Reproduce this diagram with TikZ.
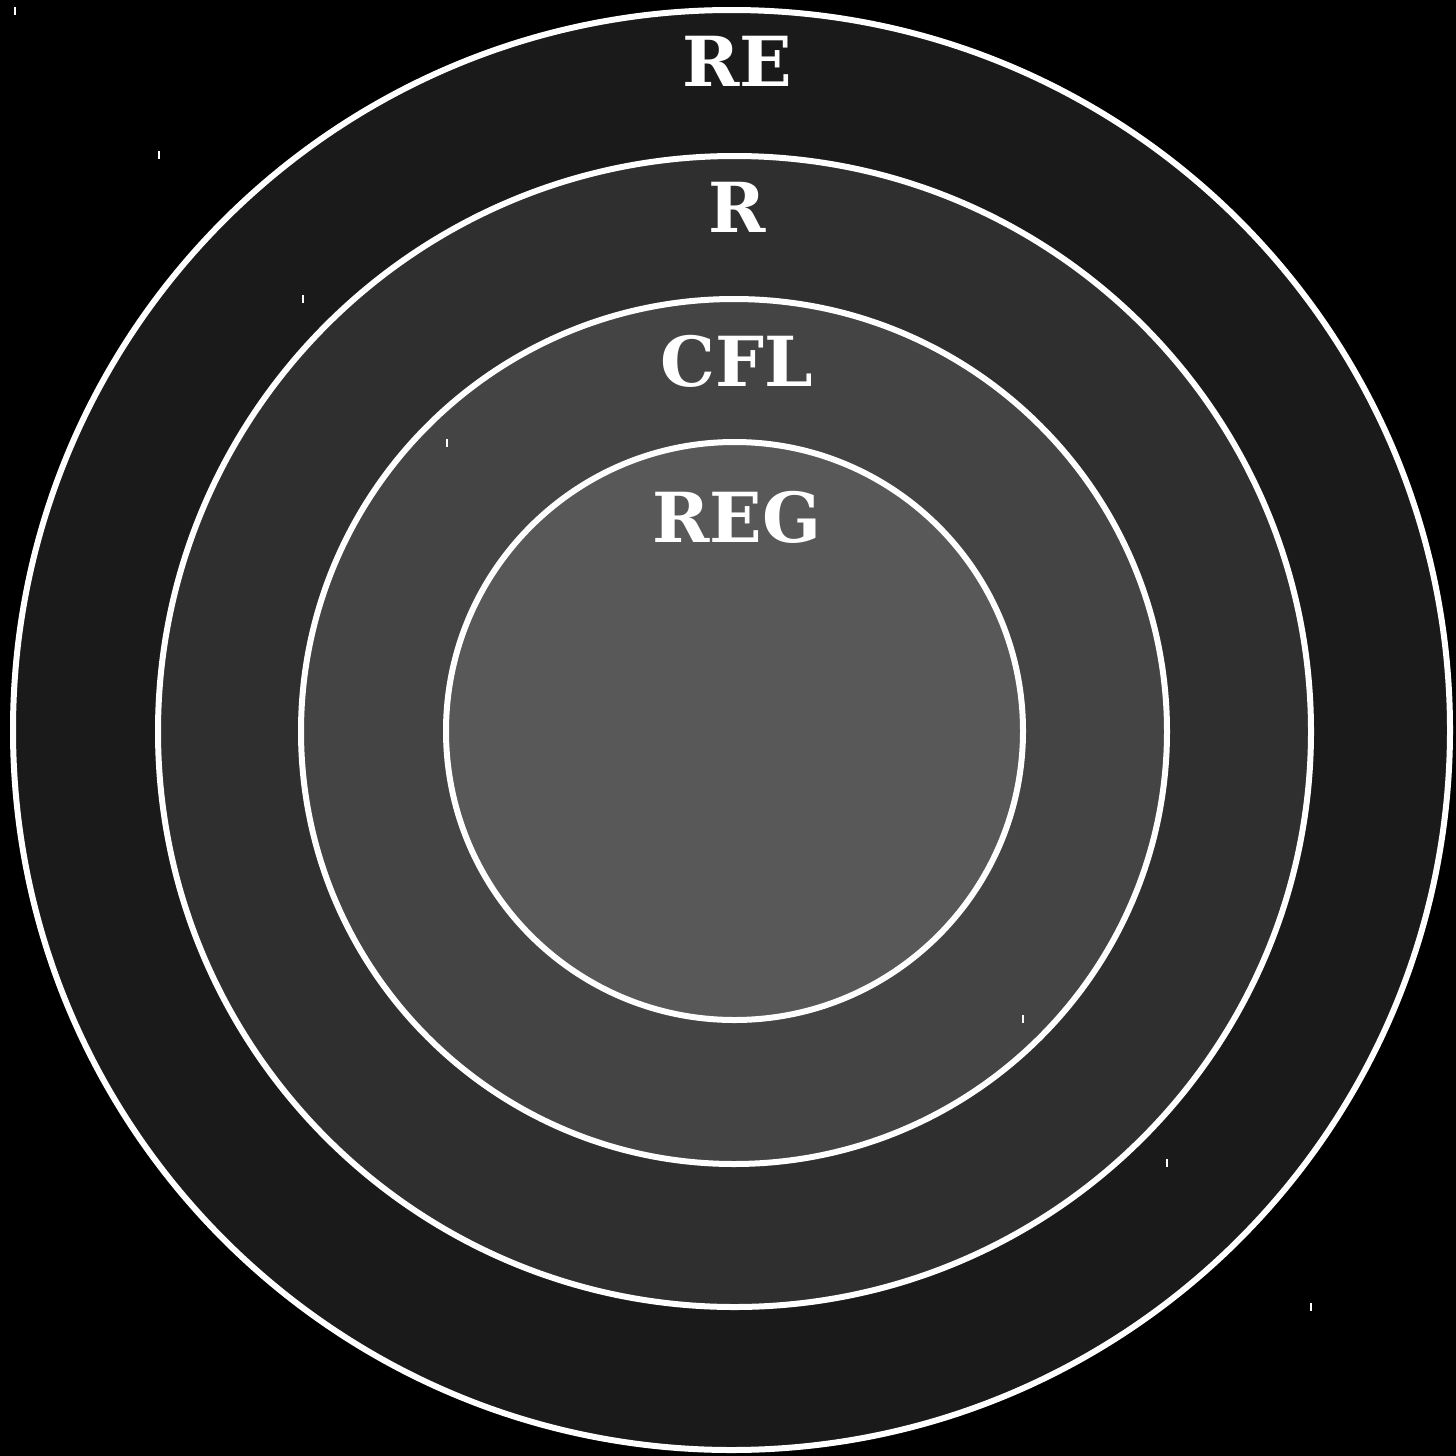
\documentclass[tikz,border=0pt]{standalone}
\usepackage{fontspec}
\newfontfamily\lblfont{DejaVu Serif}
\begin{document}
\begin{tikzpicture}[x=1pt,y=-1pt,
  ring/.style={draw=white,line width=6pt},
  lbl/.style={text=white,font=\lblfont\bfseries\fontsize{69}{69}\selectfont,anchor=base,inner sep=0pt},
  tick/.style={draw=white,line width=1.2pt}]
\fill[black] (0,0) rectangle (1456,1456);
\useasboundingbox (0,0) rectangle (1456,1456);
\path[ring,fill={rgb,255:red,26;green,26;blue,26}] (731.5,730) ellipse [x radius=718.5,y radius=720];
\path[ring,fill={rgb,255:red,47;green,47;blue,47}] (734.5,731.5) ellipse [x radius=576.5,y radius=575.5];
\path[ring,fill={rgb,255:red,68;green,68;blue,68}] (734,731.5) ellipse [x radius=433,y radius=432.5];
\path[ring,fill={rgb,255:red,88;green,88;blue,88}] (734.5,731) ellipse [x radius=288.5,y radius=289];
\node[lbl] (re) at (737,86) {RE};
\node[lbl] (r) at (737,232) {R};
\node[lbl] (cfl) at (737,386) {CFL};
\node[lbl] (reg) at (737,542) {REG};
\foreach \px/\py in {15/11,159/155,303/299,447/443,1023/1019,1167/1163,1311/1307}
  \draw[tick] (\px,\py-4) -- (\px,\py+4);
\end{tikzpicture}
\end{document}
